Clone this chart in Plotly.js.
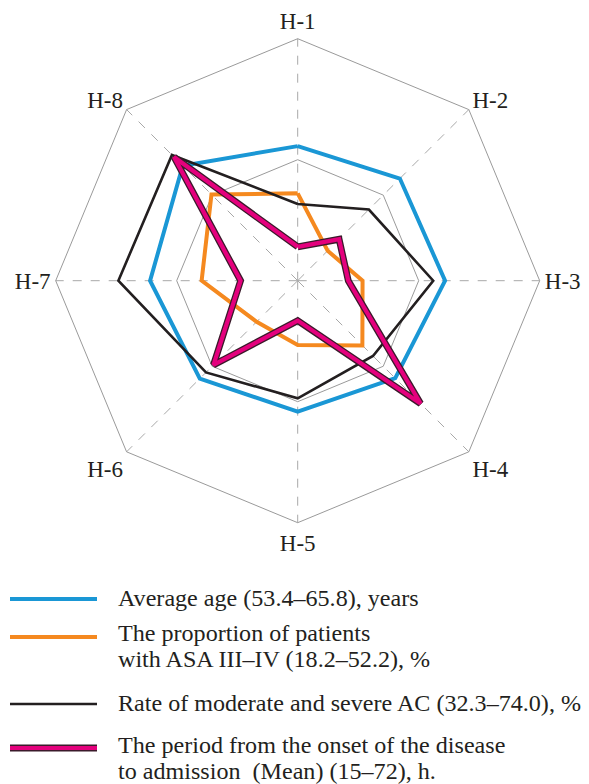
<!DOCTYPE html>
<html>
<head>
<meta charset="utf-8">
<script src="https://cdn.plot.ly/plotly-3.0.1.min.js"></script>
<style>
  html, body { margin: 0; padding: 0; background: #ffffff; }
  #chart { width: 589px; height: 784px; }
</style>
</head>
<body>
<div id="chart"></div>
<script>
// Categories (hospitals)
const categories = ["H-1", "H-2", "H-3", "H-4", "H-5", "H-6", "H-7", "H-8"];

// Normalised values (fraction of outer radius)
const ageValues    = [0.556, 0.597, 0.609, 0.570, 0.541, 0.572, 0.610, 0.672];
const asaValues    = [0.361, 0.175, 0.268, 0.378, 0.266, 0.240, 0.397, 0.504];
const acRateValues = [0.317, 0.416, 0.560, 0.440, 0.486, 0.536, 0.741, 0.735];
const periodValues = [0.140, 0.242, 0.209, 0.718, 0.165, 0.492, 0.236, 0.723];

// Legend labels
const legendLabels = [
  ["Average age (53.4\u201365.8), years"],
  ["The proportion of patients", "with ASA III\u2013IV (18.2\u201352.2), %"],
  ["Rate of moderate and severe AC (32.3\u201374.0), %"],
  ["The period from the onset of the disease", "to admission\u00a0\u00a0(Mean) (15\u201372), h."]
];

const BLUE = "#1a97d5", ORANGE = "#f5891f", BLACK = "#231f20", PINK = "#e4007d", PINK_EDGE = "#3b1a2b";
const TEXT = "#231f20";
const FONT = "Liberation Serif, Times New Roman, serif";

function closed(arr) { return arr.concat([arr[0]]); }
const theta = closed(categories);

function trace(values, color, width) {
  return {
    type: "scatterpolar",
    r: closed(values),
    theta: theta,
    mode: "lines",
    line: { color: color, width: width },
    hoverinfo: "skip",
    showlegend: false
  };
}

const data = [
  trace(ageValues, BLUE, 4),
  trace(asaValues, ORANGE, 4),
  trace(acRateValues, BLACK, 2.6),
  trace(periodValues, PINK_EDGE, 6.8),
  trace(periodValues, PINK, 4.2)
];

const W = 589, H = 784;
const cx = 297.7, cy = 280.7, R = 242;
const px = x => x / W;
const py = y => 1 - y / H;

// Legend drawn as shapes + annotations
const legendRows = [
  { y: 599, color: BLUE, width: 4, lines: legendLabels[0], ty: [598] },
  { y: 637, color: ORANGE, width: 4, lines: legendLabels[1], ty: [633, 659] },
  { y: 704, color: BLACK, width: 2.6, lines: legendLabels[2], ty: [703] },
  { y: 748, color: PINK, width: 4.2, edge: PINK_EDGE, lines: legendLabels[3], ty: [745, 771] }
];

const shapes = [];
const annotations = [];
legendRows.forEach(row => {
  if (row.edge) {
    shapes.push({ type: "line", xref: "paper", yref: "paper",
      x0: px(10), x1: px(97), y0: py(row.y), y1: py(row.y),
      line: { color: row.edge, width: 6.8 } });
  }
  shapes.push({ type: "line", xref: "paper", yref: "paper",
    x0: px(10), x1: px(97), y0: py(row.y), y1: py(row.y),
    line: { color: row.color, width: row.width } });
  row.lines.forEach((t, i) => {
    annotations.push({
      xref: "paper", yref: "paper", x: px(116), y: py(row.ty[i]),
      xanchor: "left", yanchor: "middle", showarrow: false,
      text: t, font: { family: FONT, size: 24.1, color: TEXT }
    });
  });
});

const layout = {
  width: W, height: H,
  margin: { l: 0, r: 0, t: 0, b: 0, pad: 0 },
  paper_bgcolor: "#ffffff",
  plot_bgcolor: "#ffffff",
  showlegend: false,
  polar: {
    domain: { x: [px(cx - R), px(cx + R)], y: [py(cy + R), py(cy - R)] },
    bgcolor: "rgba(0,0,0,0)",
    gridshape: "linear",
    radialaxis: {
      range: [0, 1],
      tickvals: [0.5],
      showticklabels: false,
      ticks: "",
      showline: false,
      gridcolor: "#9a9a9a",
      gridwidth: 1
    },
    angularaxis: {
      type: "category",
      categoryarray: categories,
      rotation: 90,
      direction: "clockwise",
      showline: true,
      linecolor: "#9a9a9a",
      linewidth: 1,
      gridcolor: "#a8a8a8",
      griddash: "dash",
      gridwidth: 1,
      ticks: "",
      tickfont: { family: FONT, size: 23, color: TEXT }
    }
  },
  shapes: shapes,
  annotations: annotations
};

Plotly.newPlot("chart", data, layout, { displayModeBar: false, staticPlot: true });
</script>
</body>
</html>
